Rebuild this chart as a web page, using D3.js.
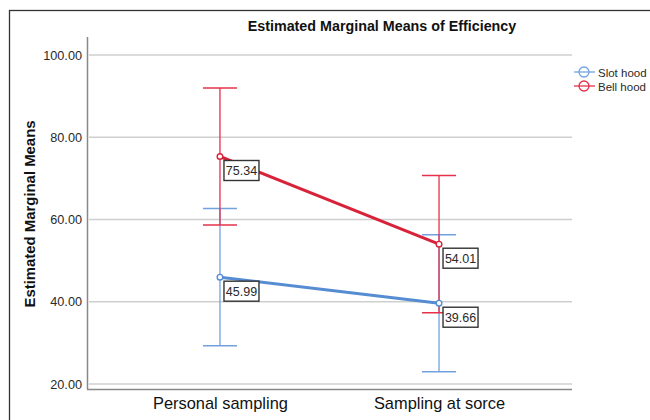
<!DOCTYPE html>
<html>
<head>
<meta charset="utf-8">
<script src="https://cdn.jsdelivr.net/npm/d3@7"></script>
<style>
  body { margin: 0; background: #fff; }
  svg { display: block; font-family: "Liberation Sans", Arial, sans-serif; }
</style>
</head>
<body>
<div id="chart"></div>
<script>
const categories = ['Personal sampling', 'Sampling at sorce'];
const seriesNames = ['Slot hood', 'Bell hood'];
const slotMeans = [45.99, 39.66];
const slotLower = [29.31, 22.98];
const slotUpper = [62.67, 56.34];
const bellMeans = [75.34, 54.01];
const bellLower = [58.66, 37.33];
const bellUpper = [92.02, 70.69];
const yTicks = [20, 40, 60, 80, 100];

const series = [
  { name: seriesNames[0], means: slotMeans, lo: slotLower, hi: slotUpper, line: '#568cd2', bar: '#72a2de' },
  { name: seriesNames[1], means: bellMeans, lo: bellLower, hi: bellUpper, line: '#d8223a', bar: '#e6304b' }
];

const W = 650, H = 420;
const plotL = 87, plotR = 572, plotT = 37, plotB = 389;

const svg = d3.select('#chart').append('svg')
  .attr('width', W).attr('height', H);

// outer frame
svg.append('rect')
  .attr('x', 9.5).attr('y', 10.5)
  .attr('width', 700).attr('height', 500)
  .attr('fill', 'none').attr('stroke', '#333').attr('stroke-width', 1.3);

const x = d3.scalePoint().domain(categories).range([plotL, plotR]).padding(0.607);
const y = d3.scaleLinear().domain([18.8, 104.4]).range([plotB, plotT]);

// gridlines
svg.append('g').selectAll('line').data(yTicks).join('line')
  .attr('x1', plotL + 2).attr('x2', plotR)
  .attr('y1', d => y(d)).attr('y2', d => y(d))
  .attr('stroke', '#cfcfcf').attr('stroke-width', 1.5);

// y axis
const yAxis = svg.append('g').attr('transform', `translate(${plotL},0)`)
  .call(d3.axisLeft(y).tickValues(yTicks).tickFormat(d3.format('.2f')).tickSize(0).tickPadding(5));
yAxis.select('.domain').attr('stroke', '#888').attr('stroke-width', 1.5)
  .attr('d', `M0.5,${plotT}V${plotB}`);
yAxis.selectAll('text').attr('font-size', 12.7).attr('fill', '#2a2a2a')
  .attr('font-family', '"Liberation Sans", Arial, sans-serif');

// x axis
const xAxis = svg.append('g').attr('transform', `translate(0,${plotB})`)
  .call(d3.axisBottom(x).tickSize(0).tickPadding(8));
xAxis.select('.domain').attr('stroke', '#888').attr('stroke-width', 1.5)
  .attr('d', `M${plotL},0.5H${plotR}`);
xAxis.selectAll('text').attr('font-size', 16.4).attr('fill', '#111')
  .attr('font-family', '"Liberation Sans", Arial, sans-serif');

// error bars
const cap = 17;
series.forEach(s => {
  const g = svg.append('g');
  categories.forEach((c, i) => {
    const cx = x(c);
    g.append('line').attr('x1', cx).attr('x2', cx)
      .attr('y1', y(s.hi[i])).attr('y2', y(s.lo[i]))
      .attr('stroke', s.bar).attr('stroke-width', 1.3);
    [s.hi[i], s.lo[i]].forEach(v => {
      g.append('line').attr('x1', cx - cap).attr('x2', cx + cap)
        .attr('y1', y(v)).attr('y2', y(v))
        .attr('stroke', s.bar).attr('stroke-width', 1.5);
    });
  });
});

// mean lines and markers
series.forEach(s => {
  const pts = categories.map((c, i) => [x(c), y(s.means[i])]);
  svg.append('path').attr('d', d3.line()(pts))
    .attr('fill', 'none').attr('stroke', s.line).attr('stroke-width', 3);
  svg.append('g').selectAll('circle').data(pts).join('circle')
    .attr('cx', d => d[0]).attr('cy', d => d[1]).attr('r', 2.8)
    .attr('fill', '#fff').attr('stroke', s.line).attr('stroke-width', 1.4);
});

// value labels
series.forEach(s => {
  categories.forEach((c, i) => {
    const bx = x(c) + 4, by = y(s.means[i]) + 4;
    svg.append('rect').attr('x', bx).attr('y', by)
      .attr('width', 35).attr('height', 20)
      .attr('fill', '#fff').attr('stroke', '#333').attr('stroke-width', 1.4);
    svg.append('text').attr('x', bx + 17.5).attr('y', by + 14.8)
      .attr('text-anchor', 'middle').attr('font-size', 12.5).attr('fill', '#2a2a2a')
      .text(d3.format('.2f')(s.means[i]));
  });
});

// title
svg.append('text').attr('x', 382).attr('y', 31)
  .attr('text-anchor', 'middle').attr('font-size', 14.3).attr('font-weight', 'bold')
  .attr('fill', '#111').text('Estimated Marginal Means of Efficiency');

// y label
svg.append('text')
  .attr('transform', 'translate(35,214) rotate(-90)')
  .attr('text-anchor', 'middle').attr('font-size', 14.9).attr('font-weight', 'bold')
  .attr('fill', '#111').text('Estimated Marginal Means');

// legend
const leg = svg.append('g');
series.forEach((s, i) => {
  const ly = 72 + i * 14;
  leg.append('line').attr('x1', 574).attr('x2', 595).attr('y1', ly).attr('y2', ly)
    .attr('stroke', s.bar).attr('stroke-width', 1.3);
  leg.append('circle').attr('cx', 584).attr('cy', ly).attr('r', 5)
    .attr('fill', 'none').attr('stroke', s.bar).attr('stroke-width', 1.3);
  leg.append('text').attr('x', 598).attr('y', ly + 4.5)
    .attr('font-size', 11.5).attr('fill', '#2a2a2a').text(s.name);
});
</script>
</body>
</html>
